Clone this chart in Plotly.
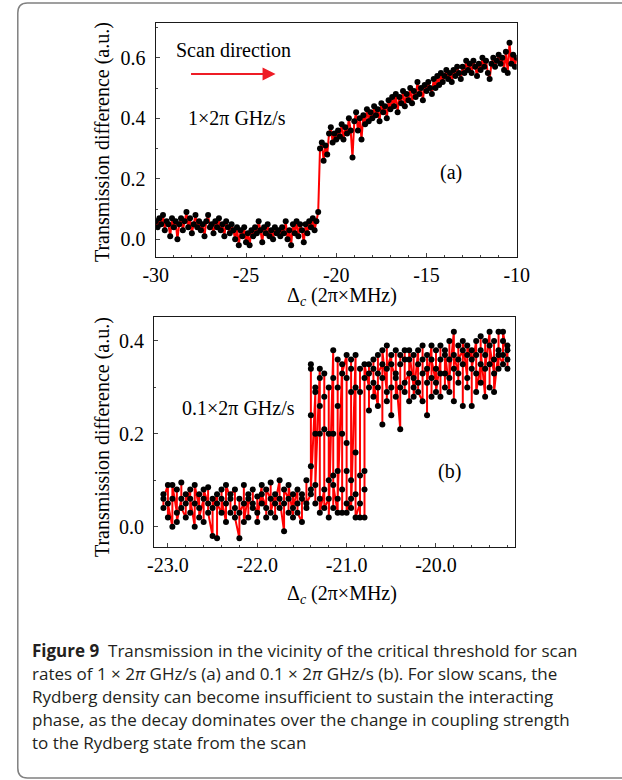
import plotly.graph_objects as go

# ---------------- data ----------------
a_x = [-30.0, -29.9, -29.8, -29.7, -29.6, -29.5, -29.4, -29.3, -29.2, -29.1,
       -29.0, -28.9, -28.8, -28.7, -28.6, -28.5, -28.4, -28.3, -28.2, -28.1,
       -28.0, -27.9, -27.8, -27.7, -27.6, -27.5, -27.4, -27.3, -27.2, -27.1,
       -27.0, -26.9, -26.8, -26.7, -26.6, -26.5, -26.4, -26.3, -26.2, -26.1,
       -26.0, -25.9, -25.8, -25.7, -25.6, -25.5, -25.4, -25.3, -25.2, -25.1,
       -25.0, -24.9, -24.8, -24.7, -24.6, -24.5, -24.4, -24.3, -24.2, -24.1,
       -24.0, -23.9, -23.8, -23.7, -23.6, -23.5, -23.4, -23.3, -23.2, -23.1,
       -23.0, -22.9, -22.8, -22.7, -22.6, -22.5, -22.4, -22.3, -22.2, -22.1,
       -22.0, -21.9, -21.8, -21.7, -21.6, -21.5, -21.4, -21.3, -21.2, -21.1,
       -21.0, -20.9, -20.8, -20.7, -20.6, -20.5, -20.4, -20.3, -20.2, -20.1,
       -20.0, -19.9, -19.8, -19.7, -19.6, -19.5, -19.4, -19.3, -19.2, -19.1,
       -19.0, -18.9, -18.8, -18.7, -18.6, -18.5, -18.4, -18.3, -18.2, -18.1,
       -18.0, -17.9, -17.8, -17.7, -17.6, -17.5, -17.4, -17.3, -17.2, -17.1,
       -17.0, -16.9, -16.8, -16.7, -16.6, -16.5, -16.4, -16.3, -16.2, -16.1,
       -16.0, -15.9, -15.8, -15.7, -15.6, -15.5, -15.4, -15.3, -15.2, -15.1,
       -15.0, -14.9, -14.8, -14.7, -14.6, -14.5, -14.4, -14.3, -14.2, -14.1,
       -14.0, -13.9, -13.8, -13.7, -13.6, -13.5, -13.4, -13.3, -13.2, -13.1,
       -13.0, -12.9, -12.8, -12.7, -12.6, -12.5, -12.4, -12.3, -12.2, -12.1,
       -12.0, -11.9, -11.8, -11.7, -11.6, -11.5, -11.4, -11.3, -11.2, -11.1,
       -11.0, -10.9, -10.8, -10.7, -10.6, -10.5, -10.4, -10.3, -10.2, -10.1,
       -10.0]
a_y = [0.06, 0.04, 0.07, 0.05, 0.08, 0.03, 0.06, 0.05, 0.01, 0.07,
       0.04, 0.06, 0.00, 0.05, 0.07, 0.03, 0.06, 0.09, 0.04, 0.07,
       0.02, 0.05, 0.08, 0.04, 0.06, 0.03, 0.05, 0.01, 0.06, 0.08,
       0.04, 0.05, 0.02, 0.06, 0.04, 0.07, 0.03, 0.05, 0.01, 0.06,
       0.04, 0.02, 0.05, 0.03, 0.00, 0.04, -0.02, 0.03, 0.01, 0.04,
       -0.01, 0.02, -0.02, 0.03, 0.01, 0.04, 0.02, 0.06, 0.03, -0.01,
       0.04, 0.02, 0.05, 0.01, 0.03, 0.00, 0.04, 0.02, 0.03, 0.01,
       0.04, 0.02, 0.06, 0.00, 0.03, -0.02, 0.05, 0.02, 0.06, 0.01,
       0.05, 0.03, -0.01, 0.05, 0.02, 0.06, 0.04, 0.07, 0.03, 0.06,
       0.09, 0.30, 0.32, 0.26, 0.31, 0.28, 0.35, 0.37, 0.32, 0.35,
       0.33, 0.36, 0.34, 0.38, 0.33, 0.37, 0.35, 0.40, 0.36, 0.27,
       0.39, 0.42, 0.36, 0.40, 0.33, 0.41, 0.38, 0.43, 0.39, 0.42,
       0.40, 0.44, 0.41, 0.43, 0.39, 0.45, 0.42, 0.44, 0.40, 0.46,
       0.43, 0.47, 0.44, 0.48, 0.42, 0.47, 0.45, 0.49, 0.44, 0.48,
       0.46, 0.50, 0.45, 0.49, 0.47, 0.52, 0.48, 0.50, 0.46, 0.51,
       0.49, 0.52, 0.50, 0.48, 0.53, 0.50, 0.54, 0.51, 0.55, 0.52,
       0.54, 0.56, 0.53, 0.55, 0.52, 0.56, 0.54, 0.57, 0.55, 0.53,
       0.57, 0.55, 0.59, 0.56, 0.58, 0.55, 0.59, 0.57, 0.54, 0.58,
       0.56, 0.60, 0.57, 0.59, 0.55, 0.53, 0.58, 0.60, 0.57, 0.59,
       0.61, 0.58, 0.60, 0.56, 0.62, 0.55, 0.65, 0.58, 0.61, 0.57,
       0.60]

# panel (b): detuning steps, each with several successive samples
b_x = [-23.05, -23.00, -22.95, -22.90, -22.85, -22.80, -22.75, -22.70, -22.65, -22.60,
       -22.55, -22.50, -22.45, -22.40, -22.35, -22.30, -22.25, -22.20, -22.15, -22.10,
       -22.05, -22.00, -21.95, -21.90, -21.85, -21.80, -21.75, -21.70, -21.65, -21.60,
       -21.55, -21.50, -21.45,
       -21.40, -21.35, -21.30, -21.25, -21.20, -21.15, -21.10, -21.05, -21.00, -20.95,
       -20.90, -20.85, -20.80,
       -20.75, -20.70, -20.65, -20.60, -20.55, -20.50, -20.45, -20.40, -20.35, -20.30,
       -20.25, -20.20, -20.15, -20.10, -20.05, -20.00, -19.95, -19.90, -19.85, -19.80,
       -19.75, -19.70, -19.65, -19.60, -19.55, -19.50, -19.45, -19.40, -19.35, -19.30,
       -19.25, -19.20]
b_y = [
    [0.07, 0.04, 0.06], [0.09, 0.02, 0.05], [0.00, 0.06, 0.09], [0.03, 0.08, 0.01],
    [0.06, 0.095, 0.04], [0.02, 0.07, 0.05], [0.08, 0.03, 0.06], [0.00, 0.05, 0.09],
    [0.04, 0.07, 0.02], [0.06, 0.01, 0.08], [0.05, 0.085, 0.03], [-0.02, 0.06, 0.04],
    [0.07, -0.025, 0.05], [0.03, 0.08, 0.06], [0.01, 0.05, 0.09], [0.06, 0.03, 0.07],
    [0.08, 0.04, 0.02], [-0.025, 0.06, 0.03], [0.05, 0.09, 0.01], [0.07, 0.02, 0.06],
    [0.04, 0.08, 0.05], [0.03, 0.065, 0.01], [0.09, 0.05, 0.07], [0.04, 0.02, 0.08],
    [0.06, 0.095, 0.03], [0.07, 0.02, 0.05], [0.10, 0.04, 0.06], [-0.01, 0.05, 0.08],
    [0.06, 0.03, 0.09], [0.02, 0.07, 0.04], [0.08, 0.05, 0.03], [0.01, 0.06, 0.07],
    [0.04, 0.10, 0.05],
    [0.07, 0.35, 0.34, 0.24, 0.13, 0.08], [0.29, 0.20, 0.05, 0.30, 0.09],
    [0.34, 0.32, 0.26, 0.20, 0.06, 0.03], [0.08, 0.33, 0.21, 0.28, 0.04],
    [0.06, 0.30, 0.20, 0.10, 0.02], [0.38, 0.32, 0.20, 0.11, 0.04, 0.09],
    [0.03, 0.36, 0.30, 0.26, 0.12, 0.06], [0.35, 0.20, 0.08, 0.03, 0.33],
    [0.37, 0.32, 0.18, 0.12, 0.05, 0.03], [0.06, 0.36, 0.34, 0.29, 0.10, 0.04],
    [0.37, 0.30, 0.16, 0.07, 0.02], [0.05, 0.34, 0.29, 0.11, 0.02],
    [0.02, 0.08, 0.12, 0.32, 0.35],
    [0.30, 0.35, 0.25, 0.33], [0.34, 0.28, 0.36, 0.31], [0.26, 0.37, 0.30, 0.33],
    [0.35, 0.22, 0.32, 0.38], [0.29, 0.39, 0.27, 0.34], [0.37, 0.30, 0.24, 0.35],
    [0.32, 0.38, 0.28, 0.33], [0.21, 0.35, 0.30, 0.37], [0.36, 0.29, 0.38, 0.31],
    [0.33, 0.27, 0.36, 0.38], [0.30, 0.37, 0.32, 0.28], [0.38, 0.31, 0.35, 0.29],
    [0.27, 0.36, 0.39, 0.33], [0.34, 0.24, 0.37, 0.31], [0.39, 0.32, 0.28, 0.36],
    [0.31, 0.38, 0.34, 0.29], [0.36, 0.28, 0.39, 0.33], [0.33, 0.37, 0.30, 0.38],
    [0.29, 0.36, 0.40, 0.32], [0.42, 0.34, 0.27, 0.37], [0.33, 0.39, 0.31, 0.36],
    [0.38, 0.26, 0.35, 0.40], [0.32, 0.37, 0.30, 0.39], [0.36, 0.26, 0.38, 0.34],
    [0.40, 0.33, 0.37, 0.29], [0.35, 0.41, 0.31, 0.38], [0.28, 0.37, 0.40, 0.34],
    [0.42, 0.35, 0.30, 0.39], [0.33, 0.40, 0.36, 0.29], [0.38, 0.42, 0.34, 0.37],
    [0.35, 0.40, 0.37, 0.42], [0.36, 0.39, 0.34, 0.38],
]

a_xticks = [-30, -25, -20, -15, -10]
a_xlabels = ["-30", "-25", "-20", "-15", "-10"]
a_yticks = [0.0, 0.2, 0.4, 0.6]
a_ylabels = ["0.0", "0.2", "0.4", "0.6"]
b_xticks = [-23.0, -22.0, -21.0, -20.0]
b_xlabels = ["-23.0", "-22.0", "-21.0", "-20.0"]
b_yticks = [0.0, 0.2, 0.4]
b_ylabels = ["0.0", "0.2", "0.4"]

caption_lines = [
    "<b>Figure 9</b>  Transmission in the vicinity of the critical threshold for scan",
    "rates of 1 × 2<i>π</i> GHz/s (a) and 0.1 × 2<i>π</i> GHz/s (b). For slow scans, the",
    "Rydberg density can become insufficient to sustain the interacting",
    "phase, as the decay dominates over the change in coupling strength",
    "to the Rydberg state from the scan",
]

# flatten panel (b)
bx_flat, by_flat = [], []
for xv, ys in zip(b_x, b_y):
    for yv in ys:
        bx_flat.append(xv)
        by_flat.append(yv)

W, H = 622, 780
def PX(p):
    return p / W
def PY(p):
    return 1 - p / H

SERIF = "Liberation Serif"
RED = "#ff0000"
PAD = "\u00a0"  # small gap between y tick labels and the axis line

fig = go.Figure()
fig.add_trace(go.Scatter(x=a_x, y=a_y, mode="lines+markers",
                         line=dict(color=RED, width=2),
                         marker=dict(color="black", size=6),
                         xaxis="x", yaxis="y", showlegend=False))
fig.add_trace(go.Scatter(x=bx_flat, y=by_flat, mode="lines+markers",
                         line=dict(color=RED, width=2),
                         marker=dict(color="black", size=6),
                         xaxis="x2", yaxis="y2", showlegend=False))

axis_common = dict(showline=True, linecolor="#1a1a1a", linewidth=1.3, mirror=True,
                   ticks="inside", ticklen=4, tickwidth=1, tickcolor="#444",
                   showgrid=False, zeroline=False,
                   tickfont=dict(family=SERIF, size=20, color="black"))

fig.update_layout(
    width=W, height=H, margin=dict(l=0, r=0, t=0, b=0),
    paper_bgcolor="white", plot_bgcolor="white",
    xaxis=dict(domain=[PX(149), PX(525.7)], range=[-30, -10], anchor="y",
               tickmode="array", tickvals=a_xticks, ticktext=a_xlabels,
               minor=dict(tick0=-30, dtick=1, ticks="inside", ticklen=2, tickcolor="#444"),
               **axis_common),
    yaxis=dict(domain=[PY(256.7), PY(22.7)], range=[-0.0575, 0.716], anchor="x",
               tickmode="array", tickvals=a_yticks,
               ticktext=[t + PAD for t in a_ylabels],
               minor=dict(tick0=0, dtick=0.1, ticks="inside", ticklen=2, tickcolor="#444"),
               **axis_common),
    xaxis2=dict(domain=[PX(147.3), PX(523.5)], range=[-23.154, -19.12], anchor="y2",
                tickmode="array", tickvals=b_xticks, ticktext=b_xlabels,
                minor=dict(tick0=-23, dtick=0.2, ticks="inside", ticklen=2, tickcolor="#444"),
                **axis_common),
    yaxis2=dict(domain=[PY(547.3), PY(317.3)], range=[-0.0444, 0.451], anchor="x2",
                tickmode="array", tickvals=b_yticks,
                ticktext=[t + PAD for t in b_ylabels],
                minor=dict(tick0=0, dtick=0.1, ticks="inside", ticklen=2, tickcolor="#444"),
                **axis_common),
)

ann = []
def text(px, py, s, size=20, family=SERIF, angle=0, xanchor="center", color="black"):
    ann.append(dict(x=PX(px), y=PY(py), xref="paper", yref="paper", text=s,
                    showarrow=False, textangle=angle, xanchor=xanchor, yanchor="middle",
                    font=dict(family=family, size=size, color=color)))

ytitle = "Transmission difference (a.u.)"
xtitle = "Δ<sub><i>c</i></sub> (2π×MHz)"
text(93, 142, ytitle, angle=-90)
text(93, 437, ytitle, angle=-90)
text(343, 296, xtitle)
text(343, 594, xtitle)
text(230.5, 50, "Scan direction")
text(233.5, 118, "1×2π GHz/s")
text(457, 172, "(a)")
text(235, 408, "0.1×2π GHz/s")
text(456, 472, "(b)")

# scan-direction arrow
ann.append(dict(x=PX(274), y=PY(74), xref="paper", yref="paper",
                ax=-86, ay=0, axref="pixel", ayref="pixel",
                showarrow=True, arrowhead=2, arrowsize=1.3, arrowwidth=2,
                arrowcolor="#ee1c25", text=""))

cap_y = [650, 673, 696, 719, 742]
for s, yy in zip(caption_lines, cap_y):
    text(18, yy, s, size=17, family="Open Sans", xanchor="left", color="#231f20")

fig.update_layout(annotations=ann)

# rounded outer frame (extends past the right edge)
r = 10
x0, y0, x1, y1 = 5, 3, 640, 778
path = (f"M {PX(x0+r)},{PY(y0)} L {PX(x1)},{PY(y0)} L {PX(x1)},{PY(y1)} "
        f"L {PX(x0+r)},{PY(y1)} Q {PX(x0)},{PY(y1)} {PX(x0)},{PY(y1-r)} "
        f"L {PX(x0)},{PY(y0+r)} Q {PX(x0)},{PY(y0)} {PX(x0+r)},{PY(y0)} Z")
fig.add_shape(type="path", path=path, xref="paper", yref="paper",
              line=dict(color="#808080", width=1.5), fillcolor="rgba(0,0,0,0)",
              layer="below")

fig.write_html("out.html")
